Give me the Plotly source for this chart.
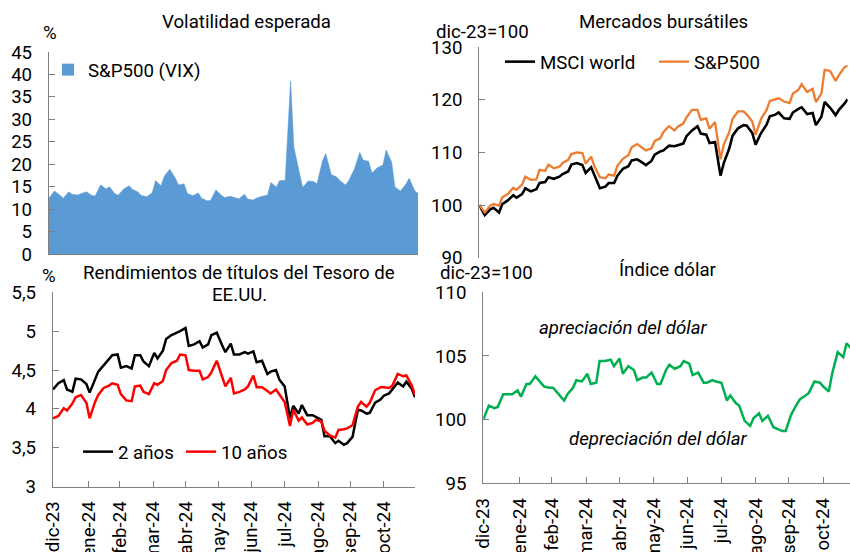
import pandas as pd
import plotly.graph_objects as go

# ---------------- data ----------------
# sample dates: every third business day, 29-dic-2023 .. 29-nov-2024
dates = pd.bdate_range("2023-12-29", "2024-11-29")[::3]

vix = [12.45, 14.04, 13.08, 12.44, 13.84, 13.30, 13.14, 13.60, 13.88, 13.06,
       12.93, 15.40, 14.50, 15.00, 13.43, 13.11, 14.50, 15.23, 14.40, 13.82,
       13.06, 12.78, 13.65, 16.35, 15.22, 17.31, 18.90, 16.94, 15.37, 15.65,
       13.49, 13.00, 13.60, 12.42, 11.86, 11.93, 14.28, 13.11, 12.58, 12.85,
       12.66, 12.30, 13.33, 12.24, 12.03, 12.48, 12.85, 13.12, 15.93, 14.91,
       16.39, 16.36, 38.57, 23.79, 18.12, 14.80, 16.27, 16.15, 15.65, 20.72,
       22.38, 17.69, 17.14, 16.33, 15.39, 16.40, 18.90, 22.64, 20.93, 20.64,
       18.03, 19.24, 19.80, 23.16, 20.49, 14.94, 14.02, 15.58, 16.87, 14.10,
       13.51]

msci_world = [100.0, 98.1, 99.2, 99.5, 98.6, 100.2, 100.9, 101.9, 101.4, 102.1,
              103.2, 102.6, 103.0, 104.2, 104.4, 105.3, 105.0, 105.4, 105.9, 106.4,
              107.7, 108.0, 107.6, 106.1, 107.2, 105.6, 103.2, 103.5, 104.2, 104.2,
              105.6, 106.9, 107.4, 108.5, 108.7, 108.3, 107.6, 108.4, 109.6, 110.2,
              110.4, 111.3, 111.2, 111.4, 111.7, 113.1, 114.2, 115.0, 113.6, 113.4,
              111.8, 112.0, 105.6, 108.0, 110.8, 113.2, 114.6, 115.2, 115.1, 113.7,
              111.5, 113.7, 115.3, 116.9, 117.2, 117.6, 116.5, 116.4, 117.6, 118.3,
              118.6, 117.3, 117.5, 115.2, 116.8, 119.6, 118.5, 117.1, 118.1, 119.3,
              120.1]

sp500 = [100.0, 98.6, 99.9, 100.2, 99.9, 101.5, 102.1, 103.3, 102.9, 103.9,
         105.4, 104.8, 104.9, 106.7, 106.5, 107.7, 107.0, 107.3, 108.0, 108.6,
         109.7, 110.0, 109.9, 107.9, 109.2, 107.4, 105.3, 105.1, 105.8, 105.6,
         107.5, 108.8, 109.5, 111.0, 111.6, 111.2, 110.4, 110.8, 112.2, 112.7,
         113.9, 115.0, 114.2, 114.9, 115.5, 116.7, 118.1, 118.1, 116.2, 116.5,
         114.5, 115.8, 108.7, 111.5, 113.9, 116.4, 117.8, 117.8, 117.2, 115.9,
         113.4, 116.4, 118.1, 119.8, 120.2, 120.3, 119.7, 119.4, 121.2, 121.9,
         123.0, 121.5, 122.1, 119.6, 121.2, 125.7, 125.5, 123.6, 124.7, 126.2,
         126.5]

yield_2y = [4.25, 4.33, 4.37, 4.25, 4.22, 4.39, 4.38, 4.32, 4.21, 4.37,
            4.48, 4.56, 4.64, 4.69, 4.70, 4.53, 4.55, 4.52, 4.69, 4.69,
            4.61, 4.55, 4.72, 4.65, 4.75, 4.90, 4.95, 4.98, 5.00, 5.04,
            4.81, 4.83, 4.87, 4.79, 4.83, 4.95, 4.98, 4.82, 4.73, 4.84,
            4.70, 4.70, 4.73, 4.71, 4.74, 4.60, 4.62, 4.45, 4.48, 4.50,
            4.38, 4.29, 3.88, 4.04, 3.94, 4.05, 3.92, 3.92, 3.90, 3.86,
            3.65, 3.65, 3.56, 3.59, 3.54, 3.56, 3.64, 3.99, 3.98, 3.94,
            3.95, 4.08, 4.12, 4.17, 4.20, 4.25, 4.34, 4.29, 4.35, 4.26,
            4.15]

yield_10y = [3.88, 3.91, 4.01, 3.98, 4.07, 4.15, 4.18, 4.08, 3.88, 4.09,
             4.18, 4.27, 4.30, 4.33, 4.31, 4.19, 4.11, 4.10, 4.29, 4.30,
             4.22, 4.19, 4.33, 4.31, 4.36, 4.50, 4.59, 4.62, 4.70, 4.69,
             4.50, 4.49, 4.49, 4.38, 4.41, 4.47, 4.62, 4.41, 4.29, 4.40,
             4.20, 4.22, 4.25, 4.29, 4.43, 4.28, 4.28, 4.23, 4.20, 4.25,
             4.19, 4.09, 3.78, 3.99, 3.85, 3.89, 3.80, 3.82, 3.86, 3.84,
             3.72, 3.66, 3.63, 3.73, 3.74, 3.75, 3.79, 4.03, 4.09, 4.03,
             4.08, 4.24, 4.28, 4.28, 4.27, 4.30, 4.45, 4.42, 4.43, 4.30,
             4.18]

dollar_index = [100.0, 101.1, 100.9, 101.0, 102.0, 102.0, 102.0, 102.3, 101.8, 102.8,
                102.8, 103.4, 102.9, 102.6, 102.5, 102.5, 102.0, 101.5, 102.0, 102.5,
                103.1, 103.0, 103.6, 102.8, 102.9, 104.6, 104.6, 104.7, 104.2, 104.8,
                103.6, 104.2, 103.9, 103.1, 103.3, 103.3, 103.7, 102.8, 102.8, 103.9,
                104.3, 104.0, 104.2, 104.6, 104.4, 103.5, 103.7, 102.9, 102.9, 103.1,
                103.0, 102.9, 101.5, 101.9, 101.3, 101.1, 99.9, 99.5, 100.1, 100.5,
                99.9, 100.3, 99.4, 99.3, 99.1, 99.1, 100.4, 101.2, 101.6, 101.9,
                102.1, 103.0, 102.9, 102.6, 102.2, 103.6, 105.3, 104.9, 106.0, 105.5,
                104.4]

month_ticks = ["2023-12-29", "2024-01-31", "2024-02-29", "2024-03-31", "2024-04-30",
               "2024-05-31", "2024-06-30", "2024-07-31", "2024-08-31", "2024-09-30",
               "2024-10-31"]
month_labels = ["dic-23", "ene-24", "feb-24", "mar-24", "abr-24", "may-24",
                "jun-24", "jul-24", "ago-24", "sep-24", "oct-24"]

# ---------------- style ----------------
W, H = 850, 552
BLUE = "#5B9BD5"
ORANGE = "#ED7D31"
GREEN = "#00B050"
RED = "#FF0000"
GRAY = "#7F7F7F"
FS = 18.67


def px(x):
    return x / W


def py(y):
    return 1 - y / H


fig = go.Figure()

fig.add_trace(go.Scatter(x=dates, y=vix, mode="lines", fill="tozeroy",
                         line=dict(color=BLUE, width=0.5), fillcolor=BLUE,
                         showlegend=False, xaxis="x", yaxis="y", hoverinfo="skip"))
fig.add_trace(go.Scatter(x=[None], y=[None], mode="markers", name="S&P500 (VIX)",
                         marker=dict(symbol="square", size=12, color=BLUE),
                         legend="legend", xaxis="x", yaxis="y"))

fig.add_trace(go.Scatter(x=dates, y=msci_world, mode="lines", name="MSCI world",
                         line=dict(color="black", width=2.6),
                         legend="legend2", xaxis="x2", yaxis="y2"))
fig.add_trace(go.Scatter(x=dates, y=sp500, mode="lines", name="S&P500",
                         line=dict(color=ORANGE, width=2.3),
                         legend="legend3", xaxis="x2", yaxis="y2"))

fig.add_trace(go.Scatter(x=dates, y=yield_2y, mode="lines", name="2 años",
                         line=dict(color="black", width=2.5),
                         legend="legend4", xaxis="x3", yaxis="y3"))
fig.add_trace(go.Scatter(x=dates, y=yield_10y, mode="lines", name="10 años",
                         line=dict(color=RED, width=2.5),
                         legend="legend5", xaxis="x3", yaxis="y3"))

fig.add_trace(go.Scatter(x=dates, y=dollar_index, mode="lines",
                         line=dict(color=GREEN, width=2.5),
                         showlegend=False, xaxis="x4", yaxis="y4"))

full_range = ["2023-12-29", "2024-11-29"]
yax = dict(showgrid=False, zeroline=False, showline=True, linecolor=GRAY, linewidth=1.3,
           ticks="inside", ticklen=6, tickwidth=1.3, tickcolor=GRAY,
           ticklabelstandoff=12, automargin=False, tickfont=dict(size=FS, color="black"))
xhidden = dict(type="date", showgrid=False, zeroline=False, showticklabels=False,
               ticks="", automargin=False)
xbottom = dict(type="date", showgrid=False, zeroline=False, showline=True,
               linecolor=GRAY, linewidth=1.3, ticks="inside", ticklen=6, tickwidth=1.3,
               tickcolor=GRAY, tickmode="array", tickvals=month_ticks,
               ticktext=month_labels, tickangle=-90, ticklabelstandoff=6,
               automargin=False, tickfont=dict(size=FS, color="black"))

legend_common = dict(bgcolor="rgba(0,0,0,0)", borderwidth=0, xanchor="left",
                     yanchor="middle", font=dict(size=FS, color="black"),
                     itemwidth=30, orientation="h")

fig.update_layout(
    width=W, height=H, margin=dict(l=0, r=0, t=0, b=0),
    template="none", paper_bgcolor="white", plot_bgcolor="white",
    font=dict(family="Roboto", size=FS, color="black"),
    separators=",.",
    xaxis=dict(xhidden, domain=[px(49), px(418)], range=full_range, anchor="y",
               showline=True, linecolor=GRAY, linewidth=1.3),
    yaxis=dict(yax, domain=[py(254), py(52)], range=[0, 45], dtick=5, anchor="x"),
    xaxis2=dict(xhidden, domain=[px(479.3), px(847.7)], range=full_range, anchor="y2",
                showline=False),
    yaxis2=dict(yax, domain=[py(257.7), py(47.3)], range=[90, 130], dtick=10, anchor="x2"),
    xaxis3=dict(xbottom, domain=[px(53), px(415)], range=full_range, anchor="y3"),
    yaxis3=dict(yax, domain=[py(486.7), py(292.3)], range=[3, 5.5], dtick=0.5, anchor="x3"),
    xaxis4=dict(xbottom, domain=[px(483.3), 1.0], range=["2023-12-29", "2024-11-24 03:00"],
                anchor="y4"),
    yaxis4=dict(yax, domain=[py(483.3), py(292.3)], range=[95, 110], dtick=5, anchor="x4"),
    legend=dict(legend_common, x=px(48), y=py(70)),
    legend2=dict(legend_common, x=px(500), y=py(62)),
    legend3=dict(legend_common, x=px(654), y=py(62)),
    legend4=dict(legend_common, x=px(78), y=py(452)),
    legend5=dict(legend_common, x=px(181), y=py(452)),
)

annotations = [
    ("Volatilidad esperada", 246.7, 22),
    ("Mercados bursátiles", 663.3, 22),
    ("Rendimientos de títulos del Tesoro de", 238.5, 273),
    ("EE.UU.", 239.2, 295),
    ("Índice dólar", 668.3, 270),
    ("%", 50, 33),
    ("dic-23=100", 482.5, 32),
    ("%", 49, 276),
    ("dic-23=100", 486.7, 273),
    ("<i>apreciación del dólar</i>", 623.3, 327.5),
    ("<i>depreciación del dólar</i>", 658, 439),
]
for text, x, y in annotations:
    fig.add_annotation(text=text, x=px(x), y=py(y), xref="paper", yref="paper",
                       xanchor="center", yanchor="middle", showarrow=False,
                       font=dict(size=FS, color="black", family="Roboto"))

fig.write_html("out.html",
               config={"displayModeBar": False},
               post_script="document.body.style.margin='0px';"
                           "document.body.style.overflow='hidden';")
